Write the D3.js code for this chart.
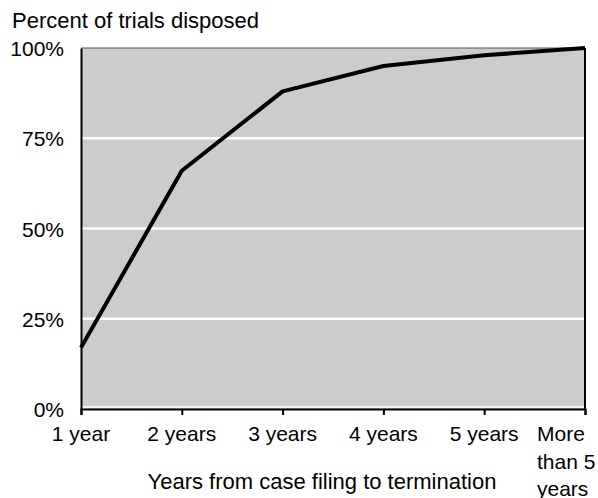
<!DOCTYPE html>
<html><head><meta charset="utf-8">
<script src="https://cdn.jsdelivr.net/npm/d3@7"></script>
<style>body{margin:0;background:#fff}svg{display:block}text{font-family:"Liberation Sans",Arial,sans-serif;fill:#000}</style>
</head><body><svg id="c" width="598" height="498"></svg>
<script>
const categories = ["1 year","2 years","3 years","4 years","5 years","More than 5 years"];
const values = [17, 66, 88, 95, 98, 100];
const yTicks = [0, 25, 50, 75, 100];
const yTickLabels = ["0%","25%","50%","75%","100%"];
const svg = d3.select("#c");
const L=81, R=585, T=48, B=409;
const x = d3.scalePoint().domain(categories).range([L,R]);
const y = d3.scaleLinear().domain([0,100]).range([B,T]);
svg.append("rect").attr("x",L).attr("y",T).attr("width",R-L).attr("height",B-T).attr("fill","#cccccc");
svg.selectAll(".g").data(yTicks.filter(d=>d>0&&d<100)).enter().append("line")
 .attr("x1",L).attr("x2",R).attr("y1",d=>y(d)).attr("y2",d=>y(d)).attr("stroke","#fff").attr("stroke-width",2.5);
svg.append("line").attr("x1",L).attr("x2",R).attr("y1",B-2).attr("y2",B-2).attr("stroke","#fff").attr("stroke-width",1.5);
svg.append("line").attr("x1",R).attr("x2",R).attr("y1",T).attr("y2",B).attr("stroke","#000").attr("stroke-width",2);
svg.append("line").attr("x1",L).attr("x2",R).attr("y1",T).attr("y2",T).attr("stroke","#555").attr("stroke-width",1);
// axes
const xa = svg.append("g").attr("transform",`translate(0,${B})`).call(d3.axisBottom(x).tickSize(6).tickFormat(""));
xa.select(".domain").attr("stroke","#000").attr("stroke-width",2);
xa.selectAll(".tick line").attr("stroke","#000").attr("stroke-width",2);
const ya = svg.append("g").attr("transform",`translate(${L},0)`).call(d3.axisLeft(y).tickValues(yTicks).tickSize(0).tickFormat((d,i)=>yTickLabels[i]));
ya.select(".domain").attr("stroke","#000").attr("stroke-width",2);
ya.selectAll(".tick text").attr("x",-17).attr("dy","0.36em").style("font-size","21px").style("font-family","Liberation Sans, Arial, sans-serif").attr("textLength",null);
// x labels
categories.forEach(c=>{
  const multi = c==="More than 5 years";
  const words = multi ? ["More","than 5","years"] : [c];
  const t = svg.append("text").attr("y",441).attr("text-anchor",multi?"start":"middle").style("font-size","21px");
  const xp = multi ? x(c)-48 : x(c);
  words.forEach((w,i)=>t.append("tspan").attr("x",xp).attr("dy",i?27.5:0).text(w));
});
// line
svg.append("path").datum(values).attr("fill","none").attr("stroke","#000").attr("stroke-width",4).attr("stroke-linejoin","round")
 .attr("d",d3.line().x((d,i)=>x(categories[i])).y(d=>y(d)));
svg.append("text").attr("x",12).attr("y",28).style("font-size","22px").text("Percent of trials disposed");
svg.append("text").attr("x",322).attr("y",489).attr("text-anchor","middle").style("font-size","22px").text("Years from case filing to termination");
</script></body></html>
